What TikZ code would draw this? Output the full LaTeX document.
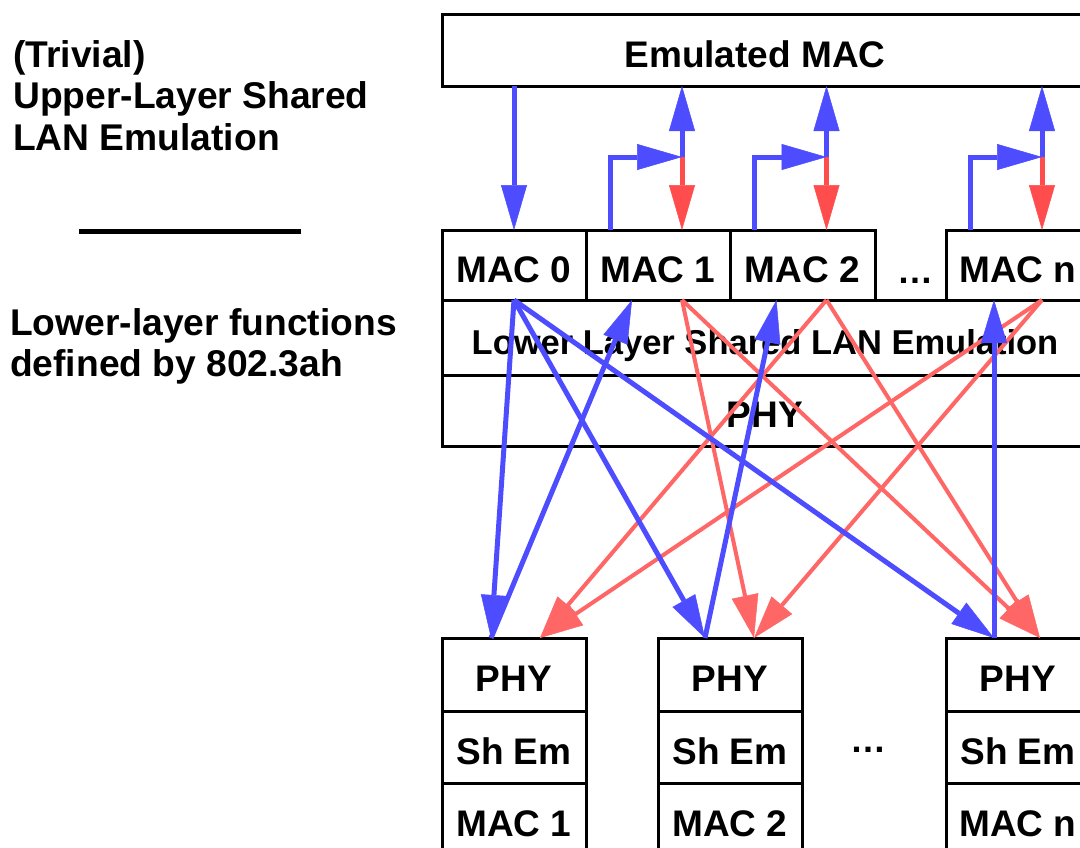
\documentclass[tikz,border=0pt]{standalone}
\usepackage{fontspec}
\setmainfont{Liberation Sans}
\usetikzlibrary{arrows.meta,calc}
\definecolor{lanblue}{RGB}{77,77,255}
\definecolor{lanred}{RGB}{255,77,77}
\definecolor{lanpink}{RGB}{255,102,102}
\begin{document}
\begin{tikzpicture}[x=1pt,y=1pt,
  box/.style={draw,line width=3pt,inner sep=0pt,outer sep=0pt,anchor=north west,
    font=\fontsize{37}{40}\selectfont\bfseries,text height=34pt,text depth=0pt},
  cell/.style={box,minimum width=144pt,minimum height=70pt},
  wide/.style={box,minimum width=646pt},
  side/.style={anchor=north west,inner sep=0pt,align=left,
    font=\fontsize{37.2}{41.5}\selectfont\bfseries},
  dots/.style={anchor=base,inner sep=0pt,font=\fontsize{36}{40}\selectfont\bfseries},
  upblue/.style={draw=lanblue,line width=5pt,
    -{Triangle[length=45pt,width=26pt,line width=0.5pt]}},
  upred/.style={draw=lanred,line width=5pt,
    -{Triangle[length=45pt,width=26pt,line width=0.5pt]}},
  crossblue/.style={draw=lanblue,line width=5pt,
    -{Triangle[length=43pt,width=26pt,line width=0.5pt]}},
  crossred/.style={draw=lanpink,line width=4pt,
    -{Triangle[length=43pt,width=27pt,line width=0.5pt]}}]
\useasboundingbox (0,0) rectangle (1080,-847);
\clip (0,0) rectangle (1080,-847);

% side captions
\node[side] (upper) at (13,-40) {(Trivial)\\Upper-Layer Shared\\LAN Emulation};
\node[side] (lower) at (10,-308) {Lower-layer functions\\defined by 802.3ah};
\draw[line width=5pt] (79,-231) -- (301,-231);

% shared station stack
\node[wide,minimum height=72pt] (emacbox) at (442,-14) {\hspace*{-20pt}Emulated MAC};
\node[cell] (mac0) at (442,-230) {MAC 0};
\node[cell] (mac1) at (586,-230) {MAC 1};
\node[cell,minimum width=145pt] (mac2) at (730,-230) {MAC 2};
\node[cell] (macn) at (946,-230) {MAC n};
\node[dots] (gapup) at (915,-283) {…};
\node[wide,minimum height=75pt,font=\fontsize{34.5}{40}\selectfont\bfseries] (lle) at (442,-300) {Lower Layer Shared LAN Emulation};
\node[wide,minimum height=71pt] (phy) at (442,-375) {PHY};

% remote stations
\foreach \n/\x/\lab in {1/442/MAC 1,2/658/MAC 2,n/946/MAC n}{
  \node[cell,minimum height=73pt] (p\n) at (\x,-638) {PHY};
  \node[cell,minimum height=72pt] (s\n) at (\x,-711) {Sh Em};
  \node[cell,minimum height=72pt] (m\n) at (\x,-783) {\lab};
}
\node[dots] (gapdown) at (868,-752) {…};

% emulated MAC to MAC 0
\draw[upblue] (emacbox.south -| mac0.north) -- (mac0.north);

% per-MAC junctions: blue up to the emulated MAC, red back down
\foreach \m in {mac1,mac2,macn}{
  \coordinate (j\m) at ($(\m.north)+(24,73)$);
  \coordinate (f\m) at ($(\m.north)+(-48,0)$);
  \draw[upred] (j\m) -- (j\m |- \m.north);
  \draw[upblue] (j\m) -- (j\m |- emacbox.south);
  \draw[upblue] (f\m) |- (j\m);
}

% connection points on the lower layer
\coordinate (b0) at (mac0.south);
\coordinate (r1) at ($(mac1.south)+(24,0)$);
\coordinate (r2) at ($(mac2.south)+(24,0)$);
\coordinate (rn) at ($(macn.south)+(24,0)$);
\coordinate (u1) at ($(mac1.south)+(-26,0)$);
\coordinate (u2) at ($(mac2.south)+(-26,0)$);
\coordinate (un) at ($(macn.south)+(-24,0)$);
\coordinate (pb1) at ($(p1.north)+(-23,0)$);
\coordinate (pr1) at ($(p1.north)+(26,0)$);
\coordinate (pb2) at ($(p2.north)+(-25,0)$);
\coordinate (pr2) at ($(p2.north)+(24,0)$);
\coordinate (pbn) at ($(pn.north)+(-24,0)$);
\coordinate (prn) at ($(pn.north)+(22,0)$);

% downstream copies to the other stations
\draw[crossred] (r1) -- (pr2);
\draw[crossred] (r1) -- (prn);
\draw[crossred] (r2) -- (pr1);
\draw[crossred] (r2) -- (prn);
\draw[crossred] (rn) -- (pr1);
\draw[crossred] (rn) -- (pr2);

% MAC 0 broadcast and upstream links
\draw[crossblue] (b0) -- (pb1);
\draw[crossblue] (b0) -- (pb2);
\draw[crossblue] (b0) -- (pbn);
\draw[crossblue] (pb1) -- (u1);
\draw[crossblue] (pb2) -- (u2);
\draw[crossblue] (pbn) -- (un);
\end{tikzpicture}
\end{document}
